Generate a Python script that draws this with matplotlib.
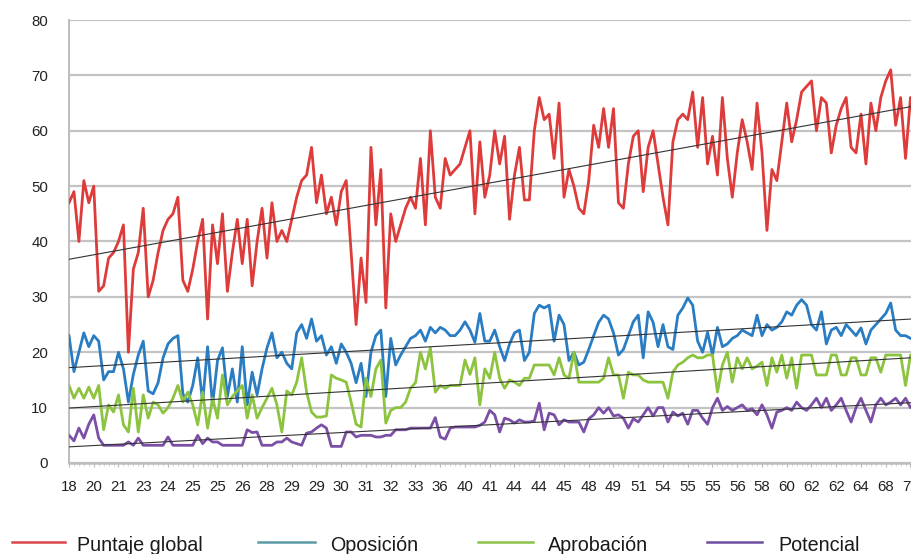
import numpy as np
import matplotlib
matplotlib.use("Agg")
import matplotlib.pyplot as plt
from matplotlib import font_manager
from matplotlib.lines import Line2D

names = {f.name for f in font_manager.fontManager.ttflist}
NARROW = 'Liberation Sans Narrow' in names
fam = 'Liberation Sans Narrow' if NARROW else 'Liberation Sans'
plt.rcParams['font.family'] = [fam, 'DejaVu Sans']

tick_labels = ["18", "20", "21", "23", "24", "25", "25", "26", "28", "29", "29", "30",
               "31", "32", "33", "36", "40", "41", "44", "44", "45", "48", "49", "51",
               "54", "55", "55", "56", "58", "60", "62", "62", "64", "68", "76"]

series_names = ["Puntaje global", "Oposición", "Aprobación", "Potencial"]

puntaje = [47, 49, 40, 51, 47, 50, 31, 32, 37, 38,
           40, 43, 20, 35, 38, 46, 30, 33, 38, 42,
           44, 45, 48, 33, 31, 35, 40, 44, 26, 43,
           36, 45, 31, 38, 44, 36, 44, 32, 40, 46,
           37, 47, 40, 42, 40, 44, 48, 51, 52, 57,
           47, 52, 45, 48, 43, 49, 51, 38, 25, 37,
           29, 57, 43, 53, 28, 45, 40, 43, 46, 48,
           46, 55, 43, 60, 48, 46, 55, 52, 53, 54,
           57, 60, 45, 58, 48, 52, 60, 54, 59, 44,
           52, 57, 47.5, 47.5, 60, 66, 62, 63, 55, 65,
           48, 53, 50, 46, 45, 51, 61, 57, 64, 57,
           64, 47, 46, 54, 59, 60, 49, 57, 60, 54,
           48, 43, 58, 62, 63, 62, 67, 57, 66, 54,
           59, 52, 66, 55, 48, 56, 62, 58, 53, 65,
           56, 42, 53, 51, 58, 65, 58, 62, 67, 68,
           69, 60, 66, 65, 56, 61, 64, 66, 57, 56,
           63, 54, 65, 60, 66, 69, 71, 61, 66, 55,
           66, 62]

oposicion = [23, 16.5, 20, 23.5, 21, 23, 22, 15, 16.5, 16.5,
             20, 17, 11, 16, 19.5, 22, 13, 12.5, 14.5, 19,
             21.5, 22.5, 23, 12.5, 11, 14, 19, 11, 21, 10.5,
             18.5, 20.8, 12, 17, 11, 21, 10.5, 16.4, 12.3, 17,
             20.8, 23.5, 19, 20, 18, 17, 23.5, 25, 22.5, 26,
             22, 23, 19.5, 21, 18, 21.5, 20, 18, 14.5, 18,
             12, 20, 23, 24, 12, 22.5, 17.7, 19.5, 21, 22.5,
             23, 24, 22, 24.5, 23.5, 24.5, 24, 23, 23, 24,
             25.5, 24, 21.8, 27, 22, 22, 24, 21, 18.5, 21.5,
             23.5, 24, 18.5, 20, 27, 28.5, 28, 28.5, 22, 26.7,
             25, 18.5, 20, 17.7, 18.2, 20.5, 23, 25.4, 26.7, 26,
             23.5, 19.5, 20.5, 23, 25.5, 26.7, 19, 27.3, 25.4, 21,
             25, 21, 20.5, 26.7, 28, 29.8, 28.5, 22, 20, 23.6,
             19.5, 24.5, 21, 21.5, 22.5, 23, 24, 23.5, 23, 26.7,
             23, 25, 24, 24.5, 25.5, 27.3, 26.7, 28.5, 29.5, 28.5,
             25, 24, 27.3, 21.5, 24, 24.5, 23, 25, 24, 23,
             24.4, 21.5, 24, 25, 26, 27, 28.9, 24, 23, 23,
             22.5, 22.5]

aprobacion = [14, 11.7, 13.5, 11.7, 13.7, 11.7, 14, 6, 10.5, 9.2,
              12.3, 6.9, 5.6, 13.5, 5.6, 12.3, 8.1, 11, 10.5, 9,
              10, 11.7, 14, 11, 12.8, 10.5, 6.9, 12.8, 6.3, 11.7,
              8.1, 15.9, 10.5, 12, 13, 14, 8.1, 12.3, 8.1, 10,
              11.7, 13.5, 10.5, 5.6, 13, 12.3, 14.6, 19, 12.8, 9.2,
              8.3, 8.3, 8.5, 15.9, 15.3, 15, 14.6, 11, 7, 6.5,
              15.3, 12, 17, 18.6, 7.2, 9.5, 10, 10, 11, 13.5,
              14.5, 20, 17, 20.8, 12.8, 14, 13.5, 14, 14, 14,
              18.6, 16, 19, 10.5, 17, 15.3, 20, 15.3, 13.5, 15,
              14.6, 14, 15.3, 15.3, 17.7, 17.7, 17.7, 17.7, 15.9, 19,
              15.9, 15.3, 20, 14.6, 14.6, 14.6, 14.6, 14.6, 15.3, 19,
              15.9, 15.9, 11.7, 16.4, 15.9, 15.9, 15, 14.6, 14.6, 14.6,
              14.6, 11.7, 16.4, 17.7, 18.2, 19, 19.5, 19, 19, 19.5,
              19.5, 12.8, 17.7, 20, 14.6, 19, 17, 19, 17, 17.5,
              18.2, 14, 19, 16.4, 19.5, 15.3, 19, 13.5, 19.5, 19.5,
              19.5, 15.9, 15.9, 15.9, 19.5, 19.5, 15.9, 15.9, 19, 19,
              15.9, 15.9, 19, 19, 16.4, 19.5, 19.5, 19.5, 19.5, 14,
              19.5, 19.5]

potencial = [5, 4, 6.3, 4.5, 7, 8.7, 4.5, 3.2, 3.2, 3.2,
             3.2, 3.2, 3.8, 3.2, 4.5, 3.2, 3.2, 3.2, 3.2, 3.2,
             4.7, 3.2, 3.2, 3.2, 3.2, 3.2, 5, 3.5, 4.5, 3.8,
             3.8, 3.2, 3.2, 3.2, 3.2, 3.2, 6, 5.5, 5.6, 3.2,
             3.2, 3.2, 3.8, 3.8, 4.5, 3.8, 3.5, 3.2, 5.4, 5.6,
             6.3, 6.9, 6.3, 3, 3, 3, 5.6, 5.6, 4.7, 5,
             5, 5, 4.7, 4.7, 5, 5, 6, 6, 6, 6.3,
             6.3, 6.3, 6.3, 6.3, 8.2, 4.7, 4.3, 6.3, 6.5, 6.5,
             6.5, 6.5, 6.5, 6.8, 7.4, 9.5, 8.7, 5.6, 8.1, 7.8,
             7.2, 7.8, 7.4, 7.4, 7.6, 10.8, 6, 9, 8.7, 6.9,
             7.8, 7.4, 7.4, 7.4, 5.6, 8, 8.7, 10, 9, 10,
             8.5, 8.7, 8.1, 6.3, 8, 7.4, 8.7, 10, 8.5, 10,
             10, 7.4, 9.2, 8.5, 9, 7, 9.5, 9.5, 8.1, 7,
             10, 11.7, 9.5, 10.2, 9.5, 10, 10.5, 9.5, 9.8, 8.7,
             10.5, 8.7, 6.3, 9.2, 9.5, 10, 9.5, 11, 10, 9.5,
             10.5, 11.7, 10, 11.7, 9.5, 10.5, 11.7, 9.5, 7.4, 10,
             11.7, 9.5, 7.4, 10.5, 11.7, 10.5, 11, 11.7, 10.5, 11.7,
             10, 10.5]

line_colors = ['#de3b3b', '#2a7dc2', '#8cc33f', '#7b4fa6']
legend_colors = ['#d9474a', '#5a9aa5', '#8cc34b', '#6b4f9e']
all_series = [puntaje, oposicion, aprobacion, potencial]

W, H = 912, 554
fig = plt.figure(figsize=(W / 100, H / 100), dpi=100)
x0_px, x_step = 69, 4.95
n_max = 172
ax = fig.add_axes([x0_px / W, (H - 463) / H, (x_step * n_max) / W, (463 - 20) / H])
ax.set_xlim(0, n_max)
ax.set_ylim(0, 80)

for s, c in zip(all_series, line_colors):
    xs = np.arange(len(s))
    ax.plot(xs, s, color=c, lw=2.0, solid_joinstyle='round', zorder=3)

for s in all_series:
    xs = np.arange(len(s))
    k, b = np.polyfit(xs, s, 1)
    xx = np.array([0, n_max])
    ax.plot(xx, k * xx + b, color='#333333', lw=0.8, zorder=4)

ax.set_yticks(np.arange(0, 81, 10))
ax.yaxis.grid(True, color='#c4c4c4', lw=1.6, zorder=0)
ax.set_axisbelow(True)
ax.set_xticks(np.arange(0, 5 * len(tick_labels), 5))
ax.set_xticklabels(tick_labels)
ax.set_xticks(np.arange(0, n_max + 1, 1), minor=True)

tick_fs = 11.5 if NARROW else 10.8
ax.tick_params(axis='y', length=0, pad=15, labelsize=tick_fs, labelcolor='#222222')
ax.tick_params(axis='x', which='major', length=3, color='#bbbbbb', pad=9,
               labelsize=tick_fs, labelcolor='#222222')
ax.tick_params(axis='x', which='minor', length=2, color='#cccccc')

for sp in ['top', 'right']:
    ax.spines[sp].set_visible(False)
ax.spines['left'].set_color('#bdbdbd')
ax.spines['left'].set_linewidth(1.4)
ax.spines['bottom'].set_color('#bdbdbd')
ax.spines['bottom'].set_linewidth(1.8)

# legend
leg_fs = 16.7 if NARROW else 14.2
leg_items = [(12, 65, 77), (258, 315, 330), (478, 533, 548), (707, 762, 778)]
for (l0, l1, tx), name, c in zip(leg_items, series_names, legend_colors):
    fig.add_artist(Line2D([l0 / W, l1 / W], [(H - 542) / H] * 2, color=c, lw=1.8,
                          transform=fig.transFigure))
    fig.text(tx / W, (H - 551) / H, name, fontsize=leg_fs, color='#1a1a1a',
             va='baseline', ha='left')

fig.savefig('out.png', dpi=100)
